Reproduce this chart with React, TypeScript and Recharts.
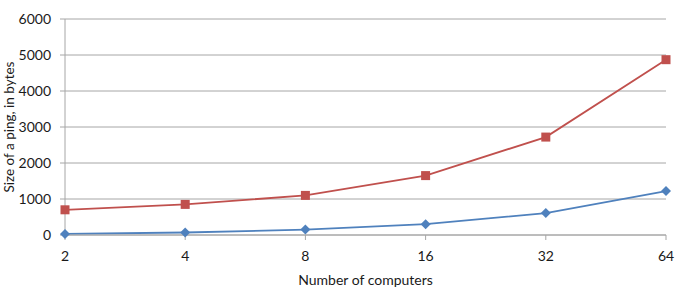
import { LineChart, Line, XAxis, YAxis, CartesianGrid } from "recharts";

// number of computers in the session
const computers = ["2", "4", "8", "16", "32", "64"];
// ping size, lower series (blue diamonds)
const blueSizes = [30, 70, 150, 300, 610, 1220];
// ping size, upper series (red squares)
const redSizes = [700, 850, 1100, 1650, 2720, 4870];
const yTicks = [0, 1000, 2000, 3000, 4000, 5000, 6000];

const data = computers.map((c, i) => ({
    computers: c,
    blue: blueSizes[i],
    red: redSizes[i],
}));

const font = "Lato, 'Open Sans', sans-serif";
const gridColor = "#a6a6a6";

const Square = (props: any) => {
    const { cx, cy } = props;
    if (cx == null || cy == null) return null;
    return <rect x={cx - 4.5} y={cy - 4.5} width={9} height={9} fill="#c0504d" />;
};

const Diamond = (props: any) => {
    const { cx, cy } = props;
    if (cx == null || cy == null) return null;
    const r = 5;
    return (
        <polygon
            points={`${cx},${cy - r} ${cx + r},${cy} ${cx},${cy + r} ${cx - r},${cy}`}
            fill="#4f81bd"
        />
    );
};

export default function App() {
    return (
        <div style={{ position: "absolute", left: 0, top: 0, background: "#fff" }}>
            <LineChart
                width={679}
                height={292}
                data={data}
                margin={{ top: 19, right: 13, left: 0, bottom: 0 }}
            >
                <CartesianGrid stroke={gridColor} vertical={false} />
                <XAxis
                    dataKey="computers"
                    height={57}
                    stroke={gridColor}
                    tickSize={5}
                    tickMargin={11}
                    tick={{ fill: "#1a1a1a", fontSize: 14, fontFamily: font }}
                    label={{
                        value: "Number of computers",
                        position: "insideBottom",
                        offset: 7,
                        style: { fill: "#1a1a1a", fontSize: 14, fontFamily: font },
                    }}
                />
                <YAxis
                    width={65}
                    domain={[0, 6000]}
                    ticks={yTicks}
                    stroke={gridColor}
                    tickSize={5}
                    tickMargin={9}
                    tick={{ fill: "#1a1a1a", fontSize: 14, fontFamily: font }}
                    label={{
                        value: "Size of a ping, in bytes",
                        angle: -90,
                        position: "insideLeft",
                        offset: 9,
                        style: { fill: "#1a1a1a", fontSize: 13.5, fontFamily: font, textAnchor: "middle" },
                    }}
                />
                <Line
                    dataKey="blue"
                    stroke="#4f81bd"
                    strokeWidth={1.8}
                    dot={<Diamond />}
                    isAnimationActive={false}
                />
                <Line
                    dataKey="red"
                    stroke="#c0504d"
                    strokeWidth={1.8}
                    dot={<Square />}
                    isAnimationActive={false}
                />
            </LineChart>
        </div>
    );
}
